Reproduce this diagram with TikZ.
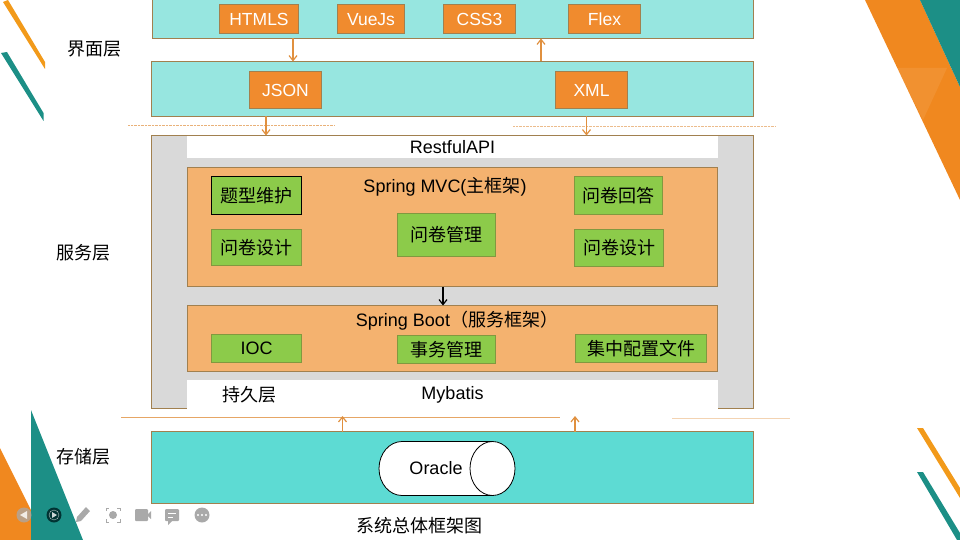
\documentclass[tikz,border=0pt]{standalone}
\usepackage{fontspec}
\setmainfont{Liberation Sans}
\newfontfamily\cjk{Noto Sans CJK SC}
\usepackage{tikz}
\usetikzlibrary{arrows.meta,shapes.geometric}
\definecolor{brandorange}{HTML}{F0881F}
\definecolor{brandteal}{HTML}{1C8F86}
\definecolor{bandcyan}{HTML}{97E6E0}
\definecolor{storecyan}{HTML}{5DDBD3}
\definecolor{boxorange}{HTML}{F08B2E}
\definecolor{paleorange}{HTML}{F4B26F}
\definecolor{boxgreen}{HTML}{8CCB4A}
\definecolor{servicegrey}{HTML}{D9D9D9}
\definecolor{edgebrown}{HTML}{A1804F}
\definecolor{arrowtan}{HTML}{E0903F}
\definecolor{icongrey}{HTML}{A9A9A9}
\tikzset{
  band/.style={draw=edgebrown,line width=0.9pt,fill=#1,inner sep=0pt,outer sep=0pt},
  whitebar/.style={fill=white,inner sep=0pt,outer sep=0pt},
  techbox/.style={draw=edgebrown,line width=0.9pt,fill=boxorange,text=white,inner sep=0pt,outer sep=0pt,text height=12.5pt,text depth=0pt,font=\fontsize{17.5}{20}\selectfont},
  modbox/.style={draw=edgebrown!80!green,line width=0.9pt,fill=boxgreen,inner sep=0pt,outer sep=0pt,font=\cjk\fontsize{18}{20}\selectfont},
  caption/.style={inner sep=0pt,font=\cjk\fontsize{18}{20}\selectfont},
  latincap/.style={inner sep=0pt,font=\fontsize{18}{20}\selectfont},
  drumend/.style={ellipse,draw=black,fill=white,line width=0.8pt,minimum height=54pt,inner sep=0pt,outer sep=0pt}
}
\begin{document}
\begin{tikzpicture}[x=1pt,y=-1pt]
  \useasboundingbox (0,0) rectangle (960,540);
  % slide corners
  \fill[brandorange] (865,0) -- (920,0) -- (960,87) -- (960,200) -- cycle;
  \fill[brandteal] (920,0) -- (960,0) -- (960,87) -- cycle;
  \fill[white,opacity=0.08] (897,68) -- (947,68) -- (923,120) -- cycle;
  \fill[brandorange!85!yellow] (3,2) -- (8,0) -- (45,62) -- (45,69) -- cycle;
  \fill[brandteal] (1,53) -- (7,52) -- (43.5,113) -- (43.5,121) -- cycle;
  \fill[brandorange!85!yellow] (917,428) -- (923,428) -- (960,488) -- (960,498) -- cycle;
  \fill[brandteal] (917,472) -- (923,472) -- (960,533) -- (960,540) -- (957,540) -- cycle;
  \fill[brandorange] (0,448) -- (31,510) -- (31,540) -- (0,540) -- cycle;
  \fill[brandteal] (31,410) -- (83,540) -- (31,540) -- cycle;

  \node[band=bandcyan,minimum width=601pt,minimum height=42.5pt] (view) at (453,17.25) {};
  \node[band=bandcyan,minimum width=602pt,minimum height=55pt] (data) at (452.5,89) {};
  \node[band=servicegrey,minimum width=602pt,minimum height=273pt] (service) at (452.5,272) {};
  \node[band=storecyan,minimum width=602pt,minimum height=71.5pt] (store) at (452.5,467.25) {};
  \node[whitebar,minimum width=531pt,minimum height=22pt,latincap] (restful) at (452.5,147) {RestfulAPI};
  \node[band=paleorange,minimum width=530pt,minimum height=119pt] (mvc) at (452.5,227) {};
  \node[band=paleorange,minimum width=530pt,minimum height=66pt] (boot) at (452.5,338.5) {};
  \node[whitebar,minimum width=531pt,minimum height=36pt] (mybatisbar) at (452.5,398) {};

  \begin{scope}[every node/.style={techbox,minimum height=29pt}]
    \node[minimum width=79pt] (htmls) at (259,19) {HTMLS};
    \node[minimum width=67pt] (vuejs) at (371,19) {VueJs};
    \node[minimum width=72pt] (css) at (479.5,19) {CSS3};
    \node[minimum width=72pt] (flex) at (604.5,19) {Flex};
    \node[minimum width=72pt,minimum height=37pt] (json) at (285.5,90) {JSON};
    \node[minimum width=72pt,minimum height=37pt] (xml) at (591.5,90) {XML};
  \end{scope}

  \begin{scope}[every node/.style={modbox}]
    \node[draw=black,thick,minimum width=90pt,minimum height=38pt] (maintain) at (256.5,195.5) {题型维护};
    \node[minimum width=90pt,minimum height=36pt] (designa) at (256.5,247.5) {问卷设计};
    \node[minimum width=98pt,minimum height=43pt] (manage) at (446.5,235) {问卷管理};
    \node[minimum width=88pt,minimum height=38pt] (answer) at (618.5,195.5) {问卷回答};
    \node[minimum width=89pt,minimum height=37pt] (designb) at (619,248) {问卷设计};
    \node[minimum width=90pt,minimum height=28pt] (ioc) at (256.5,348.5) {\fontspec{Liberation Sans}IOC};
    \node[minimum width=98pt,minimum height=28.5pt] (affair) at (446.5,349.25) {事务管理};
    \node[minimum width=131pt,minimum height=28pt] (config) at (641,348.5) {集中配置文件};
  \end{scope}

  \node[latincap] (mvctitle) at (445,186.5) {Spring MVC({\cjk 主框架})};
  \node[latincap] (boottitle) at (457,321) {Spring Boot{\cjk （服务框架）}};
  \node[latincap] (mybatis) at (452.5,395) {Mybatis};
  \node[caption] (persist) at (249,395) {持久层};
  \node[caption] (viewlayer) at (94,49) {界面层};
  \node[caption] (servicelayer) at (83,253) {服务层};
  \node[caption] (storelayer) at (83,457) {存储层};
  \node[caption] (title) at (419,526) {系统总体框架图};

  % oracle drum
  \node[drumend,minimum width=46pt] (drumback) at (402,468.5) {};
  \fill[white] (drumback.north) rectangle (492.5,495.5);
  \node[drumend,minimum width=45pt] (drumfront) at (492.5,468.5) {};
  \draw[black,line width=0.8pt] (drumback.north) -- (drumfront.north);
  \draw[black,line width=0.8pt] (drumback.south) -- (drumfront.south);
  \node[latincap] (oracle) at (436,468.5) {Oracle};

  % dividers
  \coordinate (dash1a) at (128,125.5);
  \coordinate (dash1b) at (335,125.5);
  \coordinate (dash2a) at (513,126.5);
  \coordinate (dash2b) at (775,126.5);
  \coordinate (rule1a) at (121,417.5);
  \coordinate (rule1b) at (560,417.5);
  \coordinate (rule2a) at (672,418.5);
  \coordinate (rule2b) at (790,418.5);
  \draw[arrowtan!70,densely dotted,thin] (dash1a) -- (dash1b);
  \draw[arrowtan!60,densely dotted,thin] (dash2a) -- (dash2b);
  \draw[arrowtan!80,thin] (rule1a) -- (rule1b);
  \draw[arrowtan!40,thin] (rule2a) -- (rule2b);

  \coordinate (xa) at (293,0);
  \coordinate (xb) at (541,0);
  \coordinate (xc) at (266,0);
  \coordinate (xd) at (586.5,0);
  \coordinate (xe) at (443,0);
  \coordinate (xf) at (342.5,0);
  \coordinate (xg) at (575,0);
  \begin{scope}[>={Straight Barb[length=5pt,width=8pt]},every edge/.style={draw=arrowtan,line width=1.2pt}]
    \path[->] (xa |- view.south) edge (xa |- data.north);
    \path[->] (xb |- data.north) edge (xb |- view.south);
    \path[->] (xc |- data.south) edge (xc |- service.north);
    \path[->] (xd |- data.south) edge (xd |- service.north);
    \path[->] (xf |- store.north) edge (xf |- mybatisbar.south);
    \path[->] (xg |- store.north) edge (xg |- mybatisbar.south);
  \end{scope}
  \draw[black,line width=1.2pt,>={Straight Barb[length=5pt,width=8pt]},->] (xe |- mvc.south) -- (xe |- boot.north);

  % player toolbar
  \fill[icongrey,opacity=0.75] (24,515) circle (7.5);
  \fill[white,opacity=0.8] (20,515) -- (27,511) -- (27,519) -- cycle;
  \fill[black!60!teal] (54,515) circle (7.5);
  \draw[white,opacity=0.7] (54,515) circle (5);
  \fill[white,opacity=0.8] (52,512) -- (57,515) -- (52,518) -- cycle;
  \fill[icongrey] (76,522) -- (77,517) -- (86,507) -- (90,511) -- (81,521) -- cycle;
  \draw[icongrey,thick] (106,511) -- (106,508) -- (109,508) (117,508) -- (120,508) -- (120,511)
    (120,519) -- (120,522) -- (117,522) (109,522) -- (106,522) -- (106,519);
  \fill[icongrey] (113,515) circle (4);
  \fill[icongrey,rounded corners=1pt] (135,509) rectangle (148,521);
  \fill[icongrey] (148,514) -- (151,511) -- (151,519) -- (148,516) -- cycle;
  \fill[icongrey,rounded corners=1pt] (165,509) rectangle (179,521);
  \fill[icongrey] (168,520) -- (168,525) -- (173,520) -- cycle;
  \draw[white,thick] (168,513) -- (176,513) (168,517) -- (173,517);
  \fill[icongrey] (202,515) circle (7.5);
  \foreach \dotx in {198,202,206} \fill[white] (\dotx,515) circle (1.2);
\end{tikzpicture}
\end{document}
